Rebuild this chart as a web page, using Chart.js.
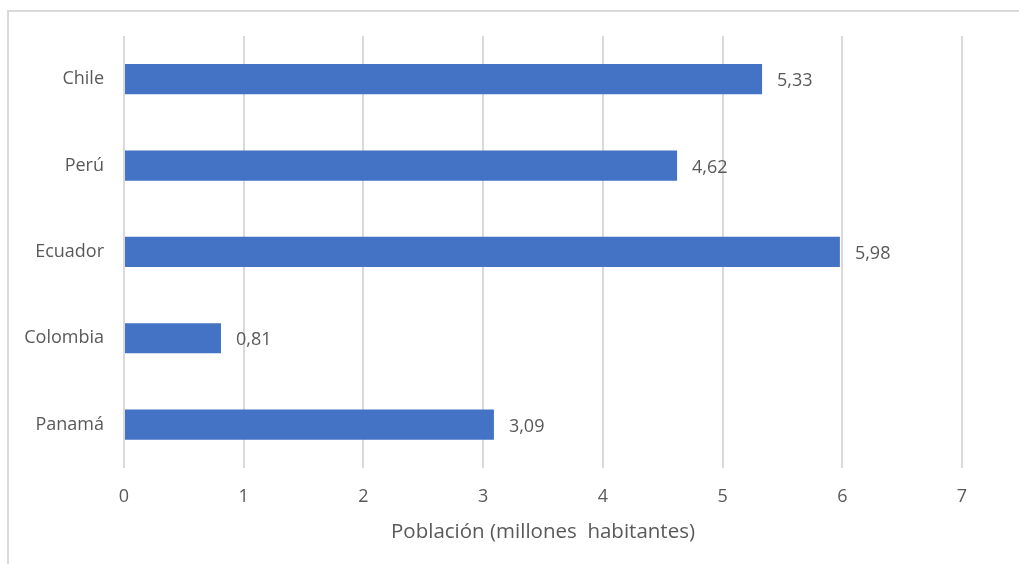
<!DOCTYPE html>
<html>
<head>
<meta charset="utf-8">
<script src="https://cdn.jsdelivr.net/npm/chart.js@4.4.0/dist/chart.umd.min.js"></script>
<style>
  html, body { margin: 0; padding: 0; background: #ffffff; }
  #wrap { position: relative; width: 1019px; height: 564px; overflow: hidden; }
  #frame { position: absolute; left: 7px; top: 10px; width: 1100px; height: 600px; border: 2px solid #d9d9d9; box-sizing: border-box; }
  #chart { position: absolute; left: 0; top: 0; }
</style>
</head>
<body>
<div id="wrap">
  <div id="frame"></div>
  <canvas id="chart" width="1019" height="564"></canvas>
</div>
<script>
// Datos
const countries = ['Chile', 'Perú', 'Ecuador', 'Colombia', 'Panamá'];
const population = [5.33, 4.62, 5.98, 0.81, 3.09];
const axisTitle = 'Población (millones  habitantes)';

const textColor = '#595959';
const fontFamily = "'Open Sans', 'Noto Sans', sans-serif";

// Etiquetas de valor al final de cada barra
const valueLabels = {
    id: 'valueLabels',
    afterDatasetsDraw(chart) {
        const ctx = chart.ctx;
        const meta = chart.getDatasetMeta(0);
        ctx.save();
        ctx.font = '18px ' + fontFamily;
        ctx.fillStyle = textColor;
        ctx.textAlign = 'left';
        ctx.textBaseline = 'middle';
        meta.data.forEach((bar, i) => {
            const label = population[i].toFixed(2).replace('.', ',');
            ctx.fillText(label, bar.x + 15, bar.y + 2);
        });
        ctx.restore();
    }
};

const ctx = document.getElementById('chart').getContext('2d');
new Chart(ctx, {
    type: 'bar',
    data: {
        labels: countries,
        datasets: [{
            data: population,
            backgroundColor: '#4472c4',
            categoryPercentage: 1,
            barPercentage: 0.35
        }]
    },
    options: {
        indexAxis: 'y',
        responsive: false,
        animation: false,
        layout: { padding: { left: 0, top: 36, right: 57, bottom: 20 } },
        plugins: {
            legend: { display: false },
            tooltip: { enabled: false }
        },
        scales: {
            x: {
                min: 0,
                max: 7,
                ticks: {
                    stepSize: 1,
                    padding: 18,
                    color: textColor,
                    font: { family: fontFamily, size: 18 }
                },
                grid: { color: '#d9d9d9', lineWidth: 2, drawTicks: false },
                border: { display: false },
                title: {
                    display: true,
                    text: axisTitle,
                    color: textColor,
                    font: { family: fontFamily, size: 20.5 },
                    padding: { top: -6, bottom: 0 }
                }
            },
            y: {
                ticks: {
                    padding: 20,
                    color: textColor,
                    font: { family: fontFamily, size: 18 }
                },
                grid: { display: false, drawTicks: false },
                border: { display: false },
                afterFit(scale) { scale.width = 124; }
            }
        }
    },
    plugins: [valueLabels]
});
</script>
</body>
</html>
